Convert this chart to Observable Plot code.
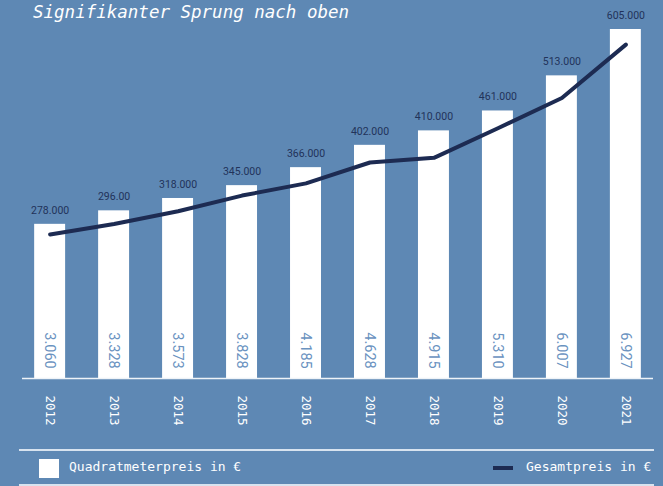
<!DOCTYPE html>
<html><head><meta charset="utf-8">
<script src="https://cdn.jsdelivr.net/npm/d3@7"></script>
<script src="https://cdn.jsdelivr.net/npm/@observablehq/plot@0.6"></script>
<style>
body{margin:0;background:#5e88b4;}
#wrap{position:relative;width:663px;height:486px;background:#5e88b4;overflow:hidden;}
#title{position:absolute;left:33px;top:4px;font:italic 17.5px/1 "DejaVu Sans Mono",monospace;color:#fff;z-index:2;white-space:pre;}
#chart{position:absolute;left:0;top:0;}
.sep{position:absolute;left:19px;width:635px;height:2px;background:#d8e3ef;}
.leg{position:absolute;font:13px/1 "DejaVu Sans Mono",monospace;color:#fff;white-space:pre;}
</style></head>
<body><div id="wrap">
<div id="title">Signifikanter Sprung nach oben</div>
<div id="chart"></div>
<div class="sep" style="top:449px"></div>
<div style="position:absolute;left:39px;top:459px;width:20px;height:19px;background:#fff"></div>
<div class="leg" style="left:69px;top:460px">Quadratmeterpreis in €</div>
<div style="position:absolute;left:493px;top:466px;width:20px;height:4px;background:#1d2b52"></div>
<div class="leg" style="left:526px;top:460px">Gesamtpreis in €</div>
<div class="sep" style="top:484px"></div>
</div>
<script>
const years = ["2012","2013","2014","2015","2016","2017","2018","2019","2020","2021"];
const sqmPrice = [3060, 3328, 3573, 3828, 4185, 4628, 4915, 5310, 6007, 6927];
const totalPrice = [278000, 296000, 318000, 345000, 366000, 402000, 410000, 461000, 513000, 605000];
const totalLabels = ["278.000","296.00","318.000","345.000","366.000","402.000","410.000","461.000","513.000","605.000"];
const totalAxisDomain = [30000, 631000];

const de = d3.formatLocale({decimal: ",", thousands: ".", grouping: [3], currency: ["", " €"]});
const fmt = de.format(",");
const data = years.map((y, i) => ({year: y, sqm: sqmPrice[i], total: totalPrice[i], label: totalLabels[i], sqmLabel: fmt(sqmPrice[i])}));
const toY = d3.scaleLinear(totalAxisDomain, [0, d3.max(sqmPrice)]);

const sans = "Roboto, sans-serif";
const mono = "'DejaVu Sans Mono', monospace";

const chart = Plot.plot({
  width: 663, height: 450,
  marginTop: 29, marginBottom: 72, marginLeft: 22, marginRight: 10,
  style: {background: "transparent", overflow: "visible"},
  x: {type: "band", domain: years, paddingInner: 0.516, paddingOuter: 0.19, round: false},
  y: {domain: [0, d3.max(sqmPrice)], axis: null},
  marks: [
    Plot.barY(data, {x: "year", y: "sqm", fill: "#ffffff"}),
    Plot.ruleY([0], {stroke: "#eef3f8", strokeWidth: 1.5}),
    Plot.axisX({tickSize: 0, tickRotate: 90, tickPadding: 17, fontSize: 12.5, fontFamily: mono, fill: "#ffffff", label: null}),
    Plot.text(data, {x: "year", y: 0, text: "sqmLabel", rotate: 90, dy: -28, textAnchor: "middle", lineAnchor: "middle", fontSize: 14.5, fontWeight: 400, fontFamily: sans, fill: "#6a92bf"}),
    Plot.text(data, {x: "year", y: "sqm", text: "label", dy: -14, textAnchor: "middle", lineAnchor: "middle", fontSize: 10.5, fontFamily: sans, fill: "#22335a"}),
    Plot.line(data, {x: "year", y: d => toY(d.total), stroke: "#1d2b52", strokeWidth: 4, strokeLinecap: "round"})
  ]
});
document.getElementById("chart").appendChild(chart);
</script>
</body></html>
